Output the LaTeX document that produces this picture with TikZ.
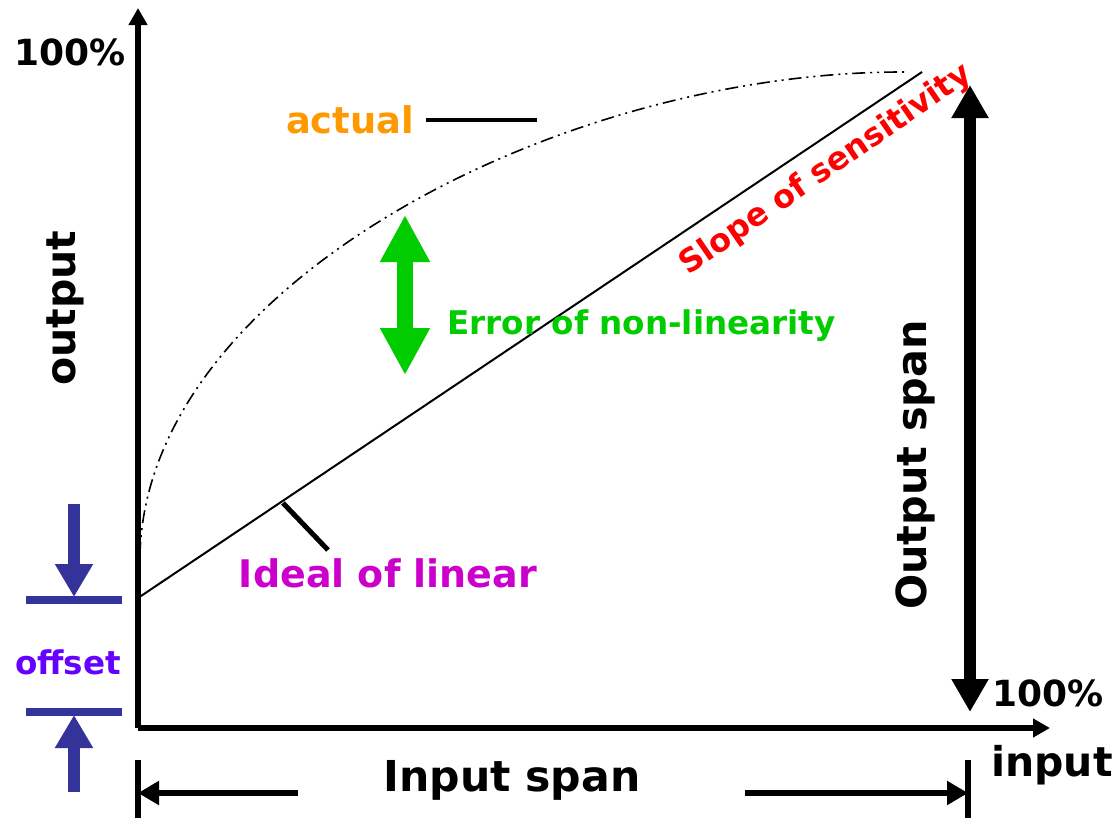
\documentclass[tikz,border=0pt]{standalone}
\usepackage{fontspec}
\setmainfont{DejaVu Sans}
\usetikzlibrary{arrows.meta, positioning, calc}
\definecolor{actualorange}{RGB}{255,153,0}
\definecolor{slopered}{RGB}{255,0,0}
\definecolor{errgreen}{RGB}{0,204,0}
\definecolor{idealmagenta}{RGB}{204,0,204}
\definecolor{offsetblue}{RGB}{51,51,153}
\definecolor{offsetpurple}{RGB}{102,0,255}
\tikzset{
    axis/.style={draw, line width=3pt, -{Triangle[length=8.5pt, width=9pt]}},
    label/.style={font=\bfseries, inner sep=0pt},
    spanarrow/.style={draw, line width=3pt, -{Triangle[length=10.5pt, width=11.5pt]}},
    spanbar/.style={draw, line width=3pt},
    bigarrow/.style={draw, line width=6pt, {Triangle[length=16.5pt, width=17.5pt]}-{Triangle[length=16.5pt, width=17.5pt]}},
    errarrow/.style={draw, errgreen, line width=8pt, {Triangle[length=23.5pt, width=23.5pt]}-{Triangle[length=23.5pt, width=23.5pt]}},
    offsetarrow/.style={draw, offsetblue, line width=6pt, -{Triangle[length=16.5pt, width=18pt]}},
    offsetbar/.style={draw, offsetblue, line width=4pt},
    pointer/.style={draw, line width=2pt},
    actualcurve/.style={draw, line width=0.8pt, dash pattern=on 6.5pt off 2.5pt on 1pt off 2.5pt on 1pt off 2.5pt},
}

\begin{document}
\begin{tikzpicture}[x=0.5pt, y=-0.5pt]

    \useasboundingbox (0,0) rectangle (1118,820);

    % Axes
    \coordinate (O) at (138,728);
    \coordinate (ytop) at (138,8);
    \coordinate (xend) at (1050,728);
    \draw[axis] (O) -- (ytop);
    \draw[axis] (O) -- (xend);

    \node[label, font=\fontsize{18}{20}\bfseries] (ymax) at (70,52) {100\%};
    \node[label, font=\fontsize{20.5}{22}\bfseries, rotate=90] (ylabel) at (65,308) {output};
    \node[label, font=\fontsize{18}{20}\bfseries] (xmax) at (1048,693) {100\%};
    \node[label, font=\fontsize{20.5}{22}\bfseries] (xlabel) at (1052,765) {input};

    % Ideal and actual curves
    \coordinate (ideal0) at (138,598);
    \coordinate (idealtop) at (922,72);
    \coordinate (actual0) at (140,555);
    \coordinate (actualtop) at (908,72);
    \draw[line width=1pt] (ideal0) -- (idealtop);
    \draw[actualcurve] (actual0) .. controls (146,285) and (560,70) .. (actualtop);

    % actual
    \node[label, actualorange, font=\fontsize{18.4}{20}\bfseries] (actual) at (350,120) {actual};
    \coordinate (actualend) at (537,120);
    \draw[pointer] ([xshift=6pt]actual.east) -- (actualend);

    % Ideal of linear
    \node[label, idealmagenta, font=\fontsize{19}{21}\bfseries] (ideal) at (388,573) {Ideal of linear};
    \coordinate (tickA) at (283,503);
    \coordinate (tickB) at (328,550);
    \draw[line width=2.5pt] (tickA) -- (tickB);

    % Slope of sensitivity
    \node[label, slopered, font=\fontsize{16}{18}\bfseries, rotate=34.5] (slope) at (826,170) {Slope of sensitivity};

    % Error of non-linearity
    \coordinate (errtop) at (405,215);
    \coordinate (errbot) at (405,375);
    \draw[errarrow] (errbot) -- (errtop);
    \node[label, errgreen, font=\fontsize{16.3}{18}\bfseries, anchor=west] (error) at (447,326) {Error of non-linearity};

    % Output span
    \coordinate (outtop) at (970,85);
    \coordinate (outbot) at (970,712);
    \draw[bigarrow] (outbot) -- (outtop);
    \node[label, font=\fontsize{20.7}{22}\bfseries, rotate=90] (outspan) at (915,465) {Output span};

    % Input span
    \node[label, font=\fontsize{21.3}{23}\bfseries] (inspan) at (512,780) {Input span};
    \coordinate (barL) at (138,760);
    \coordinate (barR) at (968,760);
    \draw[spanbar] (barL) -- ++(0,58);
    \draw[spanbar] (barR) -- ++(0,58);
    \coordinate (inL) at (298,793);
    \coordinate (inR) at (745,793);
    \draw[spanarrow] (inL) -- (barL |- inL);
    \draw[spanarrow] (inR) -- (barR |- inR);

    % Offset
    \coordinate (offhi) at (26,600);
    \coordinate (offlo) at (26,712);
    \draw[offsetbar] (offhi) -- ++(96,0);
    \draw[offsetbar] (offlo) -- ++(96,0);
    \coordinate (downA) at (74,504);
    \coordinate (downB) at (74,597);
    \coordinate (upA) at (74,792);
    \coordinate (upB) at (74,715);
    \draw[offsetarrow] (downA) -- (downB);
    \draw[offsetarrow] (upA) -- (upB);
    \node[label, offsetpurple, font=\fontsize{16.3}{18}\bfseries] (offset) at (68,662) {offset};

\end{tikzpicture}
\end{document}
